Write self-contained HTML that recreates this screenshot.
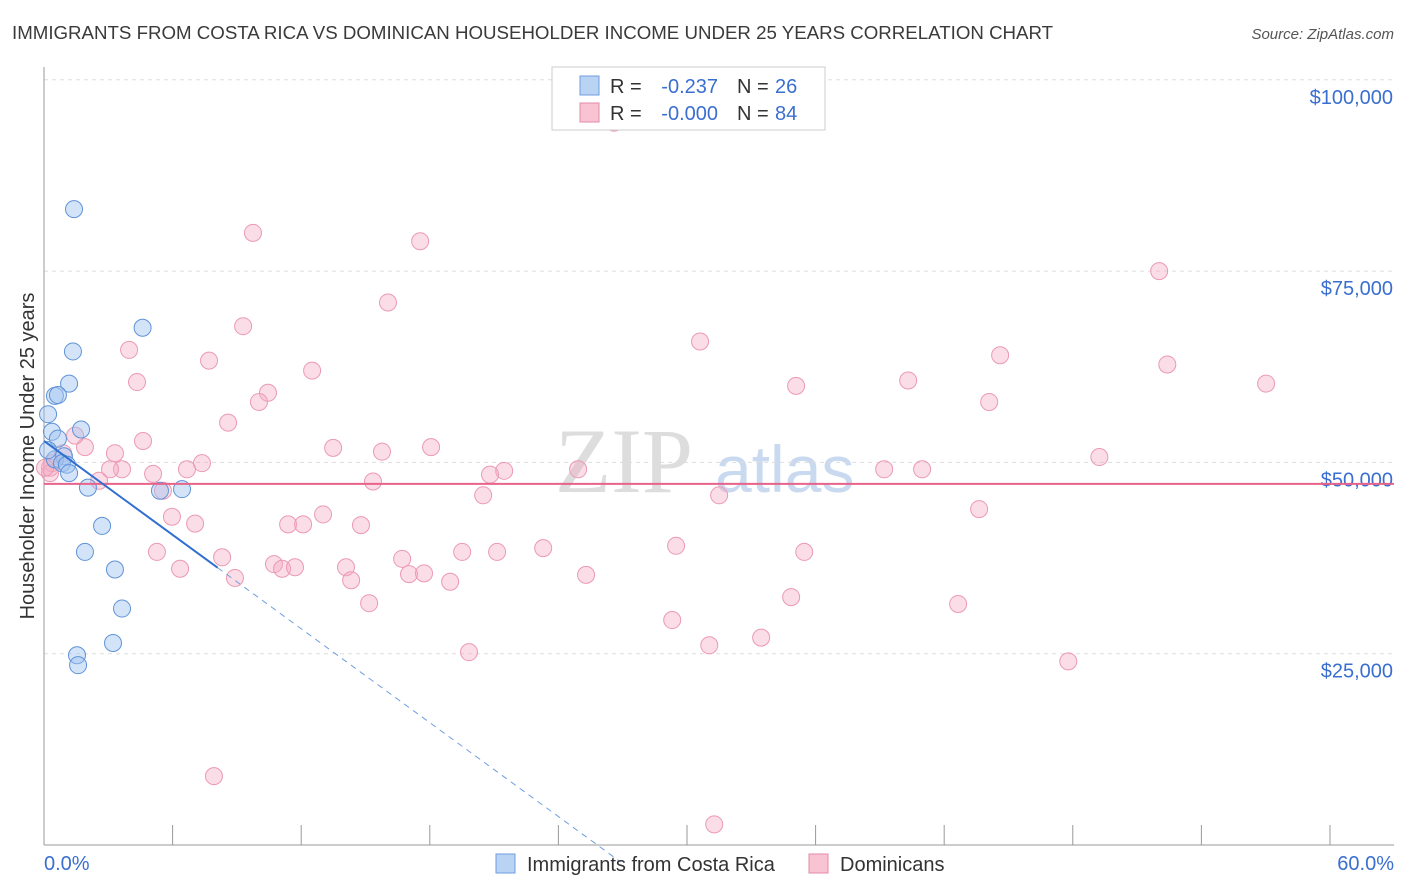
<!DOCTYPE html>
<html><head><meta charset="utf-8"><style>
body{margin:0;background:#fff;font-family:"Liberation Sans",sans-serif;}
</style></head><body>
<svg id="chart" width="1406" height="892" xmlns="http://www.w3.org/2000/svg" style="display:block">
<text x="12" y="39" font-size="18.7" fill="#3a3a3a">IMMIGRANTS FROM COSTA RICA VS DOMINICAN HOUSEHOLDER INCOME UNDER 25 YEARS CORRELATION CHART</text>
<text x="1394" y="39" font-size="15" fill="#555" font-style="italic" text-anchor="end">Source: ZipAtlas.com</text>
<text x="555" y="492" font-size="92" fill="#ddd" font-family="Liberation Serif">ZIP</text>
<text x="715" y="492" font-size="66" fill="#c9daf0">atlas</text>
<text transform="translate(34,456) rotate(-90)" font-size="20" fill="#333" text-anchor="middle">Householder Income Under 25 years</text>
<g id="grid"></g><g id="axes"></g><g id="pts"></g><g id="lines"></g>
<g>
<rect x="552" y="67" width="273" height="63" fill="#fff" stroke="#ccc"/>
<rect x="580" y="76" width="19" height="19" fill="#b9d3f3" stroke="#6f9ee0"/>
<text x="610" y="93" font-size="20" fill="#333">R =</text>
<text x="718" y="93" font-size="20" fill="#3a6fd0" text-anchor="end">-0.237</text>
<text x="737" y="93" font-size="20" fill="#333">N =</text>
<text x="775" y="93" font-size="20" fill="#3a6fd0">26</text>
<rect x="580" y="103" width="19" height="19" fill="#f8c4d3" stroke="#e48aa6"/>
<text x="610" y="120" font-size="20" fill="#333">R =</text>
<text x="718" y="120" font-size="20" fill="#3a6fd0" text-anchor="end">-0.000</text>
<text x="737" y="120" font-size="20" fill="#333">N =</text>
<text x="775" y="120" font-size="20" fill="#3a6fd0">84</text>
</g>
<g>
<rect x="496" y="854" width="19" height="19" fill="#b9d3f3" stroke="#6f9ee0"/>
<text x="527" y="871" font-size="20" fill="#333">Immigrants from Costa Rica</text>
<rect x="809" y="854" width="19" height="19" fill="#f8c4d3" stroke="#e48aa6"/>
<text x="840" y="871" font-size="20" fill="#333">Dominicans</text>
</g>
</svg>
<script>
const xTicks=[0,6,12,18,24,30,36,42,48,54,60];
const yTicks=[25000,50000,75000,100000];
const yLabels=["$25,000","$50,000","$75,000","$100,000"];
const blueX=[1.4,4.6,1.35,1.17,0.51,0.65,0.19,1.73,0.37,0.65,0.93,0.51,0.84,1.07,1.17,2.05,5.41,6.44,2.71,1.91,3.31,3.64,3.22,1.54,1.59,0.19];
const blueY=[83100,67600,64500,60300,58700,58800,56300,54300,54000,53100,50800,50400,49900,49700,48600,46700,46300,46500,41700,38300,36000,30900,26400,24800,23500,51600];
const pinkX=[26.6,9.75,17.55,52.03,16.05,9.29,30.61,3.97,7.7,44.61,52.41,12.51,4.34,40.32,57.02,35.09,10.45,10.03,44.1,8.59,4.62,13.49,15.77,18.06,1.91,3.31,0.89,1.45,49.24,0.37,0.28,3.64,3.08,5.09,6.67,7.37,24.92,21.47,20.81,39.2,40.97,15.35,2.57,20.49,31.5,5.55,5.97,7.05,13.02,11.39,12.09,14.79,43.63,5.27,8.31,19.51,21.14,23.29,29.49,35.47,6.35,10.73,11.11,11.71,14.09,16.71,14.33,17.03,17.73,18.95,8.91,25.29,15.17,34.86,42.65,29.31,33.46,31.04,19.83,47.79,7.93,31.27,0.28,0.05];
const pinkY=[94400,80000,78900,75000,70900,67800,65800,64700,63300,64000,62800,62000,60500,60700,60300,60000,59100,57900,57900,55200,52800,51900,51400,52000,52000,51200,51200,53500,50700,49900,49300,49100,49100,48500,49100,49900,49100,48900,48400,49100,49100,47500,47600,45700,45700,46300,42900,42000,43200,41900,41900,41800,43900,38300,37600,38300,38300,38800,39100,38300,36100,36700,36100,36300,36300,37400,34600,35400,35500,34400,34900,35300,31600,32400,31500,29400,27100,26100,25200,24000,9000,2700,48600,49300];
const NS="http://www.w3.org/2000/svg";
const X=v=>44+v*21.433, Y=v=>845-v*0.007652;
function mk(tag,attrs,parent){const e=document.createElementNS(NS,tag);for(const k in attrs)e.setAttribute(k,attrs[k]);document.getElementById(parent).appendChild(e);return e;}
yTicks.forEach((t,i)=>{
 const g=mk('line',{x1:44,x2:1394,y1:Y(t),y2:Y(t),stroke:'#ddd','stroke-dasharray':'4,4'},'grid');
 
 
 const tx=mk('text',{x:1393,y:Y(t)+24,'font-size':20,fill:'#3a6fd0','text-anchor':'end'},'axes');
 tx.textContent=yLabels[i];
 
 
});
const ya=mk('line',{x1:44,x2:44,y1:67,y2:845,stroke:'#999'},'axes');


const xa=mk('line',{x1:44,x2:1394,y1:845,y2:845,stroke:'#999'},'axes');


xTicks.forEach(t=>{
 const l=mk('line',{x1:X(t),x2:X(t),y1:825,y2:845,stroke:'#999'},'axes');
 
 
});
[[0,'0.0%',44,'start'],[60,'60.0%',1394,'end']].forEach(a=>{
 const t=mk('text',{x:a[2],y:870,'font-size':20,fill:'#3a6fd0','text-anchor':a[3]},'axes');
 t.textContent=a[1];
 
 
});
pinkX.forEach((v,i)=>{
 const c=mk('circle',{cx:X(v),cy:Y(pinkY[i]),r:8.5,fill:'rgba(244,170,194,0.4)',stroke:'#eb9ab3','stroke-width':1},'pts');
 
 
});
blueX.forEach((v,i)=>{
 const c=mk('circle',{cx:X(v),cy:Y(blueY[i]),r:8.5,fill:'rgba(160,196,240,0.45)',stroke:'#5f93d8','stroke-width':1},'pts');
 
 
});
const pl=mk('line',{x1:44,x2:1394,y1:Y(47200),y2:Y(47200),stroke:'#e8638a','stroke-width':2},'lines');


const b0=52800,bs=-2045;
const bl=mk('line',{x1:X(0),y1:Y(b0),x2:X(8.1),y2:Y(b0+bs*8.1),stroke:'#2f6fd0','stroke-width':2},'lines');


const bd=mk('line',{x1:X(8.1),y1:Y(b0+bs*8.1),x2:X(26.9),y2:Y(b0+bs*26.9),stroke:'#6f9ee0','stroke-width':1,'stroke-dasharray':'6,5'},'lines');


</script>
</body></html>
